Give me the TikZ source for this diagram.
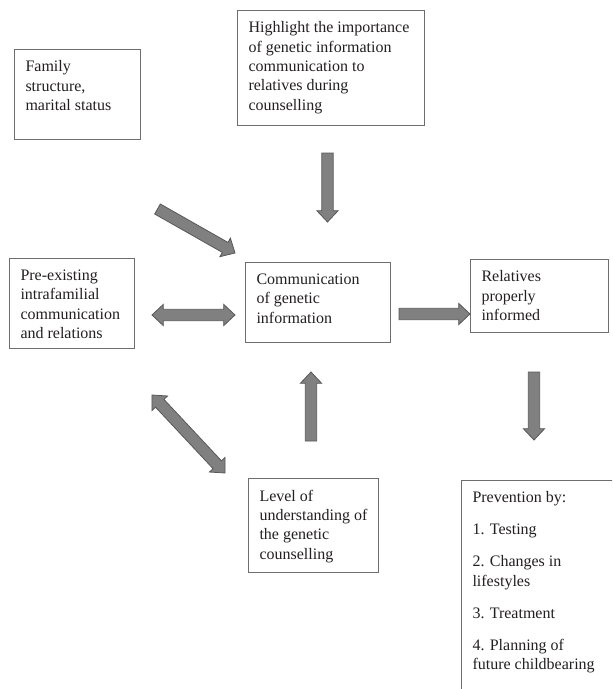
\documentclass[tikz,border=0pt]{standalone}
\usepackage{fontspec}
\setmainfont{Liberation Serif}
\usetikzlibrary{calc}

\definecolor{boxline}{RGB}{110,110,110}
\definecolor{arrowfill}{RGB}{128,128,128}
\definecolor{arrowline}{RGB}{88,88,88}
\definecolor{inktext}{RGB}{35,31,32}

\tikzset{
  box/.style={draw=boxline, line width=0.75pt, anchor=north west, inner xsep=8.25pt, inner ysep=5pt,
    font=\fontsize{12}{14.5}\selectfont, text=inktext},
  blockarr/.style={fill=arrowfill, draw=arrowline, line width=0.6pt, line join=miter},
}

% text of a box: width, height, lines
\newcommand{\cell}[3]{\parbox[t][#2][t]{#1}{\raggedright\vspace*{3.5pt}#3}}

% block arrow from #1 to #2
\newcommand{\blockarrow}[2]{%
  \coordinate (hd) at ($(#2)!8.5pt!(#1)$);
  \path[blockarr] ($(#1)!4.3pt!90:(#2)$) -- ($(hd)!4.3pt!90:(#2)$) -- ($(hd)!8pt!90:(#2)$) -- (#2)
    -- ($(hd)!8pt!-90:(#2)$) -- ($(hd)!4.3pt!-90:(#2)$) -- ($(#1)!4.3pt!-90:(#2)$) -- cycle;
}
% block arrow with heads at both ends
\newcommand{\dblarrow}[2]{%
  \coordinate (ha) at ($(#1)!8.5pt!(#2)$);
  \coordinate (hb) at ($(#2)!8.5pt!(#1)$);
  \path[blockarr] (#1) -- ($(ha)!8pt!90:(#2)$) -- ($(ha)!4.3pt!90:(#2)$) -- ($(hb)!4.3pt!90:(#2)$)
    -- ($(hb)!8pt!90:(#2)$) -- (#2) -- ($(hb)!8pt!-90:(#2)$) -- ($(hb)!4.3pt!-90:(#2)$)
    -- ($(ha)!4.3pt!-90:(#2)$) -- ($(ha)!8pt!-90:(#2)$) -- cycle;
}

\begin{document}
\begin{tikzpicture}[x=0.75pt,y=0.75pt,yscale=-1,xscale=1]
        \clip (0,0) rectangle (612,689);

        % Text Node
        \node[box] (family) at (14,49) {\cell{78pt}{57.5pt}{Family\\ structure,\\ marital status}};
        % Text Node
        \node[box] (highlight) at (237,10) {\cell{123.75pt}{76.25pt}{Highlight the importance\\ of genetic information\\ communication to\\ relatives during\\ counselling}};
        % Text Node
        \node[box] (preexist) at (9,258) {\cell{77.25pt}{57.5pt}{Pre-existing\\ intrafamilial\\ communication\\ and relations}};
        % Text Node
        \node[box] (commun) at (245,262) {\cell{92.25pt}{50pt}{Communication\\ of genetic\\ information}};
        % Text Node
        \node[box] (informed) at (470,259) {\cell{87pt}{44.75pt}{Relatives\\ properly\\ informed}};
        % Text Node
        \node[box] (understand) at (248,478) {\cell{81pt}{60.5pt}{Level of\\ understanding of\\ the genetic\\ counselling}};
        % Text Node
        \node[box] (prevent) at (461,480) {\cell{103.5pt}{155pt}{Prevention by:\\[9.5pt] 1. Testing\\[9.5pt] 2. Changes in\\ lifestyles\\[9.5pt] 3. Treatment\\[9.5pt] 4. Planning of\\ future childbearing}};

        % arrow ends
        \coordinate (hlA) at (327.5,153);
        \coordinate (hlB) at (327.5,222);
        \coordinate (famA) at (157.5,209);
        \coordinate (famB) at (235,253);
        \coordinate (preA) at (152,315);
        \coordinate (preB) at (235,315);
        \coordinate (infA) at (399,314);
        \coordinate (infB) at (470,314);
        \coordinate (prvA) at (534,372);
        \coordinate (prvB) at (534,440);
        \coordinate (levA) at (311,441);
        \coordinate (levB) at (311,372);
        \coordinate (diaA) at (152,395);
        \coordinate (diaB) at (225,473);

        %Shape: Block Arrows
        \blockarrow{hlA}{hlB}
        \blockarrow{famA}{famB}
        \dblarrow{preA}{preB}
        \blockarrow{infA}{infB}
        \blockarrow{prvA}{prvB}
        \blockarrow{levA}{levB}
        \dblarrow{diaA}{diaB}
\end{tikzpicture}
\end{document}
